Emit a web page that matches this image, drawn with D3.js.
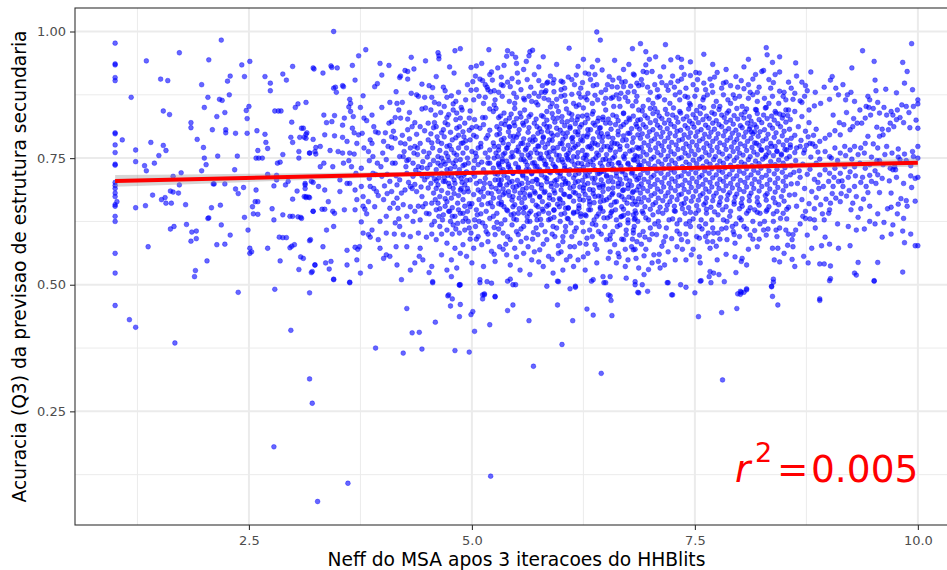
<!DOCTYPE html>
<html><head><meta charset="utf-8">
<script src="https://cdn.jsdelivr.net/npm/d3@7"></script>
<style>body{margin:0;background:#fff}svg{display:block}text{font-family:"DejaVu Sans",sans-serif}</style>
</head><body><svg id="chart" width="947" height="570"></svg>
<script>
const xTicks=[2.5,5,7.5,10], xTickLabels=["2.5","5.0","7.5","10.0"], xMinor=[1.25,3.75,6.25,8.75];
const yTicks=[.25,.5,.75,1], yTickLabels=["0.25","0.50","0.75","1.00"], yMinor=[.125,.375,.625,.875];
const xDomain=[0.55,10.45], yDomain=[0.0256,1.0464];
const xTitle="Neff do MSA apos 3 iteracoes do HHBlits";
const yTitle="Acuracia (Q3) da previsao de estrutura secundaria";
const fitX=[1,10], fitY=[.705,.741];
const bandX=[1,2.5,4,5.5,6.5,8,10];
const bandLo=[.6935,.703,.712,.7197,.724,.7285,.733];
const bandHi=[.7165,.719,.722,.7263,.730,.7375,.749];
const r2Value="0.005";

const stackAt1=[[1,.977],[1,.936],[1,.934],[1,.909],[1,.903],[1,.80],[1,.798],[1,.776],[1,.761],[1,.738],[1,.736],[1,.702],[1,.696],[1,.69],[1,.681],[1,.674],[1,.658],[1,.655],[1,.635],[1,.625],[1,.562],[1,.523],[1,.459]];

const leftSparse=[[1.08,.786],[1.18,.870],[1.02,.664],[1.23,.766],[1.23,.743],[1.23,.652],[1.33,.735],[1.35,.725],[1.35,.942],[1.40,.781],[1.34,.656],[1.37,.575],[1.42,.677],[1.44,.740],[1.49,.755],[1.51,.906],[1.54,.843],[1.54,.775],[1.57,.765],[1.52,.668],[1.56,.672],[1.57,.661],[1.59,.903],[1.61,.836],[1.63,.661],[1.62,.685],[1.65,.683],[1.62,.610],[1.66,.615],[1.65,.714],[1.72,.958],[1.71,.681],[1.72,.697],[1.74,.721],[1.79,.658],[1.80,.619],[1.85,.820],[1.85,.810],[1.86,.604],[1.85,.586],[1.91,.606],[1.91,.591],[1.90,.528],[1.89,.516],[1.92,.787],[1.97,.895],[2.00,.850],[2.04,.870],[2.05,.944],[1.97,.725],[1.99,.771],[2.00,.750],[2.02,.737],[2.09,.806],[2.14,.832],[2.10,.699],[2.11,.699],[2.08,.652],[2.05,.632],[2.04,.631],[2.03,.547],[2.14,.579],[2.19,.983],[2.15,.754],[2.19,.618],[2.18,.657],[2.17,.866],[2.20,.864],[2.23,.840],[2.24,.806],[2.24,.800],[2.23,.699],[2.23,.580],[2.26,.902],[2.29,.912],[2.28,.875],[2.29,.598],[2.35,.799],[2.34,.727],[2.37,.754],[2.35,.689],[2.38,.680],[2.42,.934],[2.45,.911],[2.51,.941],[2.47,.844],[2.50,.852],[2.48,.828],[2.48,.799],[2.44,.692],[2.45,.633],[2.49,.608],[2.51,.572],[2.51,.562],[2.53,.565],[2.54,.654],[2.55,.640],[2.57,.664],[2.60,.664],[2.58,.687],[2.58,.750],[2.60,.765],[2.61,.750],[2.59,.804],[2.65,.750],[2.60,.639],[2.68,.797],[2.68,.911],[2.74,.898],[2.74,.883],[2.69,.781],[2.71,.769],[2.71,.718],[2.76,.650],[2.79,.843],[2.83,.843],[2.86,.843],[2.78,.695],[2.81,.707],[2.81,.716],[2.82,.740],[2.85,.742],[2.71,.572],[2.78,.628],[2.84,.594],[2.88,.593],[2.92,.593],[2.85,.547],[2.88,.916],[2.92,.904],[2.88,.638],[2.91,.697],[2.94,.704],[2.88,.757],[2.98,.821],[2.97,.791],[2.99,.931],[2.99,.781],[3.02,.850],[3.05,.857],[2.99,.669],[2.96,.635],[2.99,.635],[3.05,.634],[3.08,.633],[2.98,.576],[3.01,.579],[2.96,.573],[3.04,.685],[3.06,.763],[3.06,.750],[3.09,.809],[3.12,.791],[3.14,.797],[3.15,.800],[3.08,.555],[3.06,.530],[3.13,.697],[3.13,.690],[3.14,.674],[3.17,.673],[3.12,.674],[3.22,.928],[3.18,.760],[3.19,.589],[3.21,.526],[3.24,.539],[3.22,.702],[3.22,.645],[3.25,.758],[3.25,.771]];

const lowTail=[[1.16,.431],[1.23,.416],[1.67,.385],[2.38,.485],[2.79,.491],[3.18,.484],[2.97,.410],[3.18,.314],[3.21,.266],[2.78,.180],[3.27,.072],[3.45,.510],[3.63,.504],[4.27,.453],[3.92,.375],[4.23,.365],[4.33,.405],[4.41,.406],[4.44,.373],[4.59,.426],[4.56,.504],[4.73,.478],[4.76,.458],[4.78,.472],[4.86,.500],[4.86,.499],[4.87,.461],[4.86,.437],[4.81,.370],[4.97,.367],[5.01,.447],[4.99,.441],[5.03,.408],[5.09,.504],[5.12,.472],[5.14,.480],[5.17,.506],[5.20,.421],[5.26,.476],[5.21,.122],[5.40,.507],[5.40,.449],[5.46,.460],[5.49,.500],[5.64,.429],[5.69,.339],[5.96,.507],[5.96,.460],[6.01,.382],[6.10,.492],[6.16,.495],[6.13,.429],[6.29,.452],[6.36,.440],[6.34,.507],[6.48,.504],[6.50,.504],[6.53,.480],[6.55,.478],[6.56,.469],[6.57,.439],[6.45,.325],[6.83,.500],[6.86,.485],[3.61,.108],[6.87,.484],[6.91,.500],[6.97,.487],[7.19,.504],[7.24,.480],[7.34,.500],[7.40,.495],[7.50,.484],[7.54,.437],[7.56,.507],[7.68,.504],[7.80,.445],[7.81,.312],[7.97,.453],[8.01,.481],[8.02,.485],[8.05,.485],[8.08,.492],[8.36,.496],[8.37,.477],[8.43,.460],[8.38,.505],[8.90,.469],[9.01,.508],[9.51,.507]];

const midLeft=[[3.23,.926],[3.33,.918],[3.14,.860],[3.34,.835],[3.11,.809],[3.07,.791],[3.14,.789],[3.22,.787],[3.35,.796],[3.37,.820],[3.43,.822],[3.30,.773],[3.18,.760],[3.24,.763],[3.41,.765],[3.34,.740],[3.30,.733],[3.44,.733],[3.13,.700],[3.20,.704],[3.28,.694],[3.35,.687],[3.14,.672],[3.18,.672],[3.39,.664],[3.32,.649],[3.35,.649],[3.44,.645],[3.22,.645],[3.09,.631],[3.18,.587],[3.33,.575],[3.37,.608],[3.45,.615],[3.11,.552],[3.24,.539],[3.20,.524],[3.36,.543],[3.40,.531],[3.42,.546],[3.45,.511],[3.45,1.0],[3.45,.888],[3.47,.890],
[3.81,.964],[3.73,.952],[3.42,.932],[3.43,.929],[3.49,.928],[3.66,.933],[3.55,.893],[3.56,.891],[3.48,.880],[3.63,.866],[3.64,.858],[3.62,.851],[3.64,.842],[3.78,.873],[3.69,.904],[3.46,.834],[3.57,.829],[3.67,.832],[3.79,.829],[3.82,.824],[3.46,.794],[3.55,.791],[3.60,.783],[3.66,.809],[3.73,.796],[3.77,.799],[3.71,.779],[3.50,.763],[3.55,.760],[3.63,.760],[3.68,.758],[3.79,.770],[3.56,.740],[3.65,.733],[3.76,.730],[3.52,.707],[3.63,.700],[3.69,.687],[3.76,.694],[3.52,.684],[3.78,.674],[3.71,.668],[3.57,.648],[3.69,.648],[3.80,.649],[3.46,.641],[3.76,.624],[3.78,.602],[3.84,.599],[3.86,.594],[3.60,.568],[3.69,.574],[3.72,.570],[3.74,.575],[3.71,.549],[3.60,.539],[3.75,.523],[3.63,.505],
[3.97,.937],[4.07,.933],[3.94,.897],[3.99,.914],[3.91,.891],[3.90,.812],[3.92,.802],[3.86,.786],[3.88,.779],[4.01,.783],[4.06,.773],[4.10,.792],[4.14,.789],[4.08,.860],[4.16,.858],[4.10,.822],[4.14,.830],[3.84,.763],[3.89,.753],[3.94,.740],[4.04,.747],[4.14,.740],[4.19,.753],[3.89,.720],[3.99,.714],[4.08,.704],[4.16,.697],[4.19,.707],[3.86,.694],[3.93,.684],[4.10,.684],[4.16,.671],[4.01,.668],[3.84,.664],[3.91,.654],[4.08,.651],[4.17,.651],[4.04,.635],[3.97,.625],[4.14,.622],[3.88,.608],[4.04,.602],[3.97,.572],[4.04,.559],[4.08,.556],[4.01,.552],[3.95,.589],[4.16,.539],[4.15,.575],[3.86,.536],
[4.25,.923],[4.28,.921],[4.32,.949],[4.48,.942],[4.35,.926],[4.19,.909],[4.20,.912],[4.28,.906],[4.44,.896],[4.52,.893],[4.56,.889],[4.32,.878],[4.38,.875],[4.40,.872],[4.44,.847],[4.48,.849],[4.54,.845],[4.20,.829],[4.28,.827],[4.36,.820],[4.33,.812],[4.28,.806],[4.42,.812],[4.51,.819],[4.25,.778],[4.31,.770],[4.36,.773],[4.42,.779],[4.46,.763],[4.51,.786],[4.56,.770],[4.23,.753],[4.29,.747],[4.34,.740],[4.40,.733],[4.45,.743],[4.53,.737],[4.27,.720],[4.34,.714],[4.41,.720],[4.47,.707],[4.55,.717],[4.21,.681],[4.25,.687],[4.31,.694],[4.38,.684],[4.44,.674],[4.51,.691],[4.57,.681],[4.23,.658],[4.31,.654],[4.36,.645],[4.45,.654],[4.49,.641],[4.55,.661],[4.27,.635],[4.19,.615],[4.34,.625],[4.42,.628],[4.55,.618],[4.23,.599],[4.31,.595],[4.40,.602],[4.49,.594],[4.27,.575],[4.42,.572],[4.36,.543],[4.45,.549],[4.55,.536],[4.31,.529],[4.41,.556],[4.52,.524],[4.56,.506],[4.21,.510],
[4.62,.958],[4.63,.952],[4.63,.946],[4.81,.962],[4.87,.966],[4.75,.930],[4.80,.918],[4.60,.911],[4.70,.883],[4.72,.870],[4.59,.835],[4.63,.857],[4.69,.852],[4.79,.857],[4.79,.845],[4.83,.839],[4.87,.829],[4.92,.819],[4.61,.792],[4.66,.779],[4.72,.773],[4.78,.786],[4.83,.756],[4.88,.779],[4.91,.792],[4.94,.770],[4.60,.812],[4.68,.806],[4.73,.816],[4.83,.809],[4.90,.802],[4.62,.753],[4.68,.743],[4.73,.753],[4.79,.740],[4.87,.747],[4.92,.737],[4.60,.727],[4.66,.720],[4.72,.727],[4.77,.714],[4.83,.720],[4.88,.710],[4.94,.723],[4.62,.697],[4.70,.704],[4.75,.694],[4.81,.700],[4.87,.687],[4.92,.697],[4.59,.668],[4.64,.674],[4.72,.664],[4.77,.671],[4.84,.661],[4.90,.668],[4.60,.648],[4.68,.638],[4.75,.645],[4.81,.635],[4.87,.641],[4.93,.631],[4.64,.615],[4.72,.608],[4.79,.618],[4.86,.602],[4.92,.608],[4.60,.589],[4.72,.582],[4.81,.572],[4.90,.579],[4.66,.559],[4.77,.549],[4.87,.562],[4.94,.556],[4.72,.529],[4.83,.533],[4.77,.516],[4.87,.500],[4.74,.480],
[4.22,.795],[4.30,.788],[4.38,.797],[4.47,.804],[4.54,.798],[4.24,.763],[4.39,.757],[4.50,.752],[4.57,.745],[4.26,.733],[4.37,.726],[4.44,.731],[4.50,.713],[4.58,.709],[4.29,.702],[4.36,.698],[4.43,.693],[4.54,.700],[4.62,.783],[4.69,.792],[4.76,.801],[4.85,.795],[4.93,.784],[4.64,.765],[4.71,.760],[4.77,.767],[4.85,.770],[4.90,.760],[4.65,.735],[4.70,.738],[4.76,.729],[4.81,.733],[4.86,.727],[4.91,.716],[4.63,.711],[4.68,.704],[4.73,.716],[4.80,.707],[4.89,.702],[4.94,.706],[4.66,.686],[4.73,.681],[4.79,.690],[4.85,.676],[4.91,.683],[4.62,.661],[4.70,.655],[4.78,.652],[4.85,.648],[4.92,.655],[4.67,.628],[4.76,.625],[4.84,.621],[4.90,.641],[4.65,.840],[4.74,.836],[4.82,.826],[4.89,.845],[4.77,.873],[4.85,.880],[4.93,.865],[4.58,.860],[4.12,.803],[4.05,.718],[3.98,.733],[4.11,.740],[4.02,.695],[4.12,.661],[3.95,.676],[3.92,.718],[4.07,.819],[3.99,.850],[3.88,.835],[4.18,.845],[4.15,.881],
[3.55,.815],[3.62,.745],[3.70,.720],[3.78,.655],[3.85,.745],[3.90,.690],[3.95,.800],[4.00,.760],[4.05,.680],[4.10,.770],[4.15,.715],[4.18,.630],[4.22,.860],[4.27,.745],[4.33,.690],[4.39,.770],[4.44,.715],[4.48,.660],[4.52,.760],[4.57,.810],[4.60,.690],[4.66,.750],[4.70,.820],[4.74,.700],[4.80,.760],[4.85,.715],[4.90,.780],[4.95,.690],[3.68,.800],[3.75,.850],[3.85,.710],[4.03,.800],[4.20,.780],[4.35,.760],[4.50,.730],[4.63,.635],[4.78,.600],[4.88,.850],[4.97,.660],[4.30,.840],[4.47,.870],[4.13,.600],[3.60,.700],[3.82,.640],[4.40,.655],[4.55,.600]];

const midCenter=[[4.99,.929],[5.05,.932],[5.11,.937],[5.19,.964],[4.99,.884],[5.01,.901],[5.04,.912],[5.09,.906],[5.12,.903],[5.15,.895],[5.18,.885],[5.21,.881],[5.23,.904],[5.25,.883],[5.29,.928],[5.22,.920],[4.98,.843],[4.97,.829],[5.03,.826],[5.05,.812],[5.09,.809],[5.13,.816],[5.20,.847],[5.24,.842],[5.27,.848],[5.30,.830],[5.02,.865],[5.13,.858],[5.26,.865],[5.00,.763],[5.05,.753],[5.10,.779],[5.15,.760],[5.20,.766],[5.25,.773],[5.29,.753],[4.98,.786],[5.05,.792],[5.16,.789],[5.28,.796],[4.96,.740],[5.02,.730],[5.07,.737],[5.13,.727],[5.18,.740],[5.24,.730],[5.30,.737],[4.98,.707],[5.03,.714],[5.09,.704],[5.15,.710],[5.20,.700],[5.26,.707],[5.31,.697],[4.96,.684],[5.02,.678],[5.07,.687],[5.13,.674],[5.18,.681],[5.24,.671],[5.30,.684],[4.98,.654],[5.05,.648],[5.11,.658],[5.16,.645],[5.23,.654],[5.28,.641],[4.96,.625],[5.03,.628],[5.12,.622],[5.20,.631],[5.28,.623],[4.99,.602],[5.07,.595],[5.16,.605],[5.26,.599],[5.02,.572],[5.11,.579],[5.22,.566],[5.31,.575],[5.00,.543],[5.13,.536],[5.26,.546],[5.09,.510],[5.22,.503],[5.12,.480],[5.14,.482],[5.26,.477],
[5.02,.795],[5.10,.772],[5.18,.751],[5.26,.719],[5.05,.700],[5.13,.690],[5.21,.662],[5.08,.668],[5.16,.720],[5.24,.780],[5.12,.830],[5.20,.805],[5.03,.745],[5.27,.760],[5.22,.693],[5.06,.638],[5.15,.615],[5.25,.613],[4.97,.612],[5.28,.812],
[5.40,.962],[5.45,.956],[5.49,.949],[5.50,.937],[5.36,.933],[5.39,.951],[5.68,.963],[5.65,.960],[5.64,.952],[5.61,.941],[5.33,.910],[5.35,.893],[5.40,.900],[5.45,.907],[5.51,.918],[5.52,.900],[5.43,.891],[5.50,.870],[5.34,.872],[5.64,.872],[5.59,.865],[5.67,.862],[5.36,.839],[5.42,.829],[5.48,.848],[5.42,.812],[5.33,.818],[5.48,.814],[5.57,.819],[5.64,.832],[5.59,.845],[5.54,.839],[5.34,.743],[5.39,.770],[5.43,.793],[5.50,.791],[5.55,.779],[5.60,.766],[5.65,.786],[5.33,.786],[5.37,.760],[5.46,.753],[5.52,.763],[5.58,.747],[5.63,.756],[5.68,.740],[5.35,.727],[5.41,.733],[5.46,.720],[5.52,.730],[5.57,.717],[5.61,.727],[5.67,.720],[5.33,.707],[5.39,.697],[5.45,.704],[5.50,.694],[5.56,.700],[5.61,.691],[5.68,.704],[5.35,.678],[5.41,.684],[5.46,.674],[5.54,.681],[5.59,.671],[5.65,.678],[5.33,.658],[5.39,.648],[5.46,.654],[5.52,.641],[5.58,.651],[5.64,.641],[5.37,.628],[5.45,.618],[5.50,.628],[5.58,.615],[5.65,.625],[5.35,.602],[5.43,.589],[5.52,.599],[5.61,.592],[5.69,.603],[5.39,.559],[5.48,.572],[5.58,.562],[5.67,.549],[5.43,.539],[5.54,.529],[5.65,.520],[5.46,.500],[5.43,.511],
[5.75,.903],[5.84,.898],[5.85,.900],[5.91,.898],[6.00,.902],[6.02,.900],[6.04,.888],[5.92,.881],[5.83,.883],[5.79,.893],[5.70,.878],[5.75,.872],[5.81,.868],[5.86,.865],[5.95,.866],[6.04,.874],[6.09,.967],[5.84,.842],[5.88,.851],[5.95,.852],[5.97,.842],[6.06,.847],[5.74,.855],[5.80,.832],[5.91,.829],[6.01,.822],[5.73,.812],[5.78,.802],[5.84,.812],[5.89,.799],[5.95,.809],[6.02,.799],[5.71,.786],[5.75,.773],[5.80,.792],[5.87,.786],[5.91,.770],[5.99,.779],[6.05,.792],[5.73,.760],[5.78,.750],[5.84,.760],[5.89,.747],[5.95,.756],[6.01,.747],[6.06,.756],[5.71,.733],[5.76,.727],[5.82,.737],[5.87,.723],[5.93,.733],[5.99,.720],[6.04,.730],[5.73,.707],[5.78,.697],[5.84,.710],[5.89,.700],[5.95,.707],[6.01,.697],[6.05,.704],[5.71,.681],[5.76,.674],[5.82,.684],[5.87,.671],[5.93,.681],[5.99,.668],[6.04,.678],[5.74,.654],[5.80,.645],[5.86,.658],[5.92,.648],[5.98,.654],[6.04,.641],[5.73,.628],[5.78,.618],[5.86,.628],[5.91,.615],[5.99,.625],[6.05,.615],[5.74,.599],[5.84,.589],[5.93,.595],[6.02,.585],[5.76,.569],[5.86,.556],[5.97,.562],[6.06,.549],[5.80,.536],[5.91,.523],[6.02,.529],[5.97,.506],[5.84,.497],
[6.19,.931],[6.27,.918],[6.31,.916],[6.17,.914],[6.24,.899],[6.36,.893],[6.40,.895],[6.40,.999],[6.44,.983],[6.41,.943],[6.46,.924],[6.12,.876],[6.20,.878],[6.27,.870],[6.14,.858],[6.29,.865],[6.35,.858],[6.38,.874],[6.41,.865],[6.09,.839],[6.17,.852],[6.25,.849],[6.12,.826],[6.19,.832],[6.29,.835],[6.36,.842],[6.42,.829],[6.10,.812],[6.16,.802],[6.23,.816],[6.30,.806],[6.36,.819],[6.43,.809],[6.10,.766],[6.16,.773],[6.22,.786],[6.27,.756],[6.32,.773],[6.38,.779],[6.43,.792],[6.12,.789],[6.19,.796],[6.29,.792],[6.08,.747],[6.14,.753],[6.19,.740],[6.25,.750],[6.30,.737],[6.36,.747],[6.42,.756],[6.10,.727],[6.16,.717],[6.21,.727],[6.27,.714],[6.32,.723],[6.38,.710],[6.43,.720],[6.08,.700],[6.14,.694],[6.19,.704],[6.25,.691],[6.30,.700],[6.36,.687],[6.42,.697],[6.10,.674],[6.16,.681],[6.21,.668],[6.27,.678],[6.32,.664],[6.38,.674],[6.44,.664],[6.08,.651],[6.14,.641],[6.20,.651],[6.27,.638],[6.33,.648],[6.40,.635],[6.11,.622],[6.17,.612],[6.24,.623],[6.32,.608],[6.39,.618],[6.12,.595],[6.21,.582],[6.29,.592],[6.38,.579],[6.10,.556],[6.19,.549],[6.30,.562],[6.40,.543],[6.14,.536],[6.27,.529],[6.36,.510],[6.16,.497],
[6.60,.943],[6.80,.966],[6.81,.916],[6.76,.935],[6.54,.911],[6.58,.904],[6.57,.891],[6.65,.908],[6.72,.901],[6.63,.890],[6.67,.878],[6.65,.867],[6.70,.891],[6.82,.881],[6.87,.893],[6.50,.868],[6.56,.868],[6.50,.845],[6.59,.852],[6.66,.852],[6.70,.839],[6.80,.853],[6.84,.862],[6.87,.845],[6.47,.826],[6.55,.819],[6.62,.832],[6.70,.816],[6.77,.826],[6.85,.812],[6.45,.799],[6.48,.773],[6.55,.766],[6.60,.779],[6.66,.773],[6.73,.786],[6.80,.766],[6.85,.753],[6.53,.792],[6.64,.796],[6.77,.799],[6.47,.747],[6.53,.737],[6.58,.750],[6.64,.740],[6.70,.753],[6.75,.740],[6.81,.747],[6.87,.733],[6.45,.723],[6.51,.714],[6.57,.727],[6.62,.714],[6.68,.723],[6.73,.710],[6.79,.720],[6.85,.707],[6.47,.694],[6.53,.704],[6.58,.691],[6.64,.700],[6.70,.687],[6.75,.697],[6.81,.684],[6.87,.694],[6.45,.674],[6.51,.668],[6.57,.678],[6.62,.664],[6.68,.674],[6.74,.661],[6.80,.671],[6.85,.658],[6.47,.645],[6.55,.635],[6.61,.648],[6.68,.635],[6.75,.641],[6.83,.631],[6.49,.615],[6.58,.605],[6.66,.618],[6.73,.608],[6.81,.602],[6.51,.589],[6.60,.579],[6.70,.589],[6.79,.575],[6.85,.585],[6.53,.552],[6.64,.562],[6.75,.549],[6.81,.569],[6.47,.516],[6.55,.516],[6.62,.543],[6.72,.536],[6.83,.506],[6.87,.533]];

const coreFillA=[[5.32,.833],[5.44,.837],[5.55,.831],[5.66,.836],[5.78,.834],[5.90,.838],[6.01,.832],[6.12,.836],[6.24,.833],[6.35,.837],[6.47,.831],[6.58,.835],[6.70,.838],[6.81,.833],
[5.37,.816],[5.47,.820],[5.58,.815],[5.70,.819],[5.81,.817],[5.93,.821],[6.04,.814],[6.16,.818],[6.27,.820],[6.38,.815],[6.50,.819],[6.61,.816],[6.73,.821],[6.84,.817],
[5.31,.798],[5.41,.802],[5.52,.797],[5.63,.801],[5.74,.799],[5.85,.803],[5.96,.796],[6.07,.800],[6.19,.802],[6.30,.797],[6.41,.801],[6.52,.798],[6.64,.803],[6.75,.799],[6.86,.796],
[5.35,.780],[5.46,.784],[5.57,.779],[5.68,.783],[5.79,.781],[5.90,.785],[6.01,.778],[6.13,.782],[6.24,.784],[6.35,.779],[6.46,.783],[6.57,.780],[6.69,.785],[6.80,.781],
[5.30,.766],[5.40,.770],[5.50,.765],[5.61,.769],[5.71,.767],[5.82,.771],[5.92,.764],[6.03,.768],[6.14,.770],[6.24,.765],[6.34,.769],[6.45,.766],[6.56,.771],[6.66,.767],[6.77,.764],[6.87,.769],
[5.34,.748],[5.44,.752],[5.55,.747],[5.65,.751],[5.76,.749],[5.86,.753],[5.97,.746],[6.07,.750],[6.18,.752],[6.28,.747],[6.39,.751],[6.50,.748],[6.60,.753],[6.71,.749],[6.82,.746],
[5.31,.733],[5.41,.737],[5.52,.732],[5.62,.736],[5.73,.734],[5.83,.738],[5.94,.731],[6.04,.735],[6.15,.737],[6.25,.732],[6.36,.736],[6.46,.733],[6.57,.738],[6.67,.734],[6.78,.731],[6.88,.736],
[5.36,.716],[5.46,.720],[5.57,.715],[5.67,.719],[5.78,.717],[5.88,.721],[5.99,.714],[6.09,.718],[6.20,.720],[6.30,.715],[6.41,.719],[6.51,.716],[6.62,.721],[6.72,.717],[6.83,.714],
[5.32,.698],[5.42,.702],[5.53,.697],[5.63,.701],[5.74,.699],[5.84,.703],[5.95,.696],[6.05,.700],[6.16,.702],[6.26,.697],[6.37,.701],[6.47,.698],[6.58,.703],[6.68,.699],[6.79,.696],
[5.37,.681],[5.48,.685],[5.59,.680],[5.70,.684],[5.81,.682],[5.92,.686],[6.03,.679],[6.14,.683],[6.25,.685],[6.36,.680],[6.47,.684],[6.58,.681],[6.69,.686],[6.80,.682],
[5.33,.663],[5.45,.667],[5.56,.662],[5.68,.666],[5.79,.664],[5.91,.668],[6.02,.661],[6.14,.665],[6.25,.667],[6.37,.662],[6.48,.666],[6.60,.663],[6.71,.668],[6.83,.664],
[5.40,.646],[5.53,.650],[5.66,.645],[5.79,.649],[5.92,.647],[6.05,.651],[6.18,.644],[6.31,.648],[6.44,.650],[6.57,.645],[6.70,.649],[6.83,.646],
[5.47,.630],[5.62,.634],[5.77,.629],[5.92,.633],[6.07,.631],[6.22,.635],[6.37,.628],[6.52,.632],[6.67,.634],[6.82,.629]];

const coreFillC=[[5.38,.824],[5.50,.828],[5.61,.823],[5.72,.827],[5.84,.825],[5.96,.829],[6.07,.822],[6.18,.826],[6.30,.828],[6.41,.823],[6.53,.827],[6.64,.824],[6.76,.829],[6.86,.825],
[5.31,.807],[5.42,.811],[5.53,.806],[5.64,.810],[5.76,.808],[5.87,.812],[5.99,.805],[6.10,.809],[6.21,.811],[6.33,.806],[6.44,.810],[6.56,.807],[6.67,.812],[6.79,.808],
[5.36,.789],[5.47,.793],[5.58,.788],[5.69,.792],[5.80,.790],[5.91,.794],[6.02,.787],[6.13,.791],[6.25,.793],[6.36,.788],[6.47,.792],[6.58,.789],[6.70,.794],[6.81,.790],
[5.30,.773],[5.41,.777],[5.52,.772],[5.63,.776],[5.74,.774],[5.85,.778],[5.96,.771],[6.08,.775],[6.19,.777],[6.30,.772],[6.41,.776],[6.52,.773],[6.63,.778],[6.74,.774],[6.85,.771],
[5.35,.757],[5.45,.761],[5.56,.756],[5.66,.760],[5.77,.758],[5.87,.762],[5.98,.755],[6.08,.759],[6.19,.761],[6.29,.756],[6.40,.760],[6.51,.757],[6.61,.762],[6.72,.758],[6.83,.755],
[5.30,.740],[5.39,.744],[5.49,.739],[5.60,.743],[5.70,.741],[5.81,.745],[5.91,.738],[6.02,.742],[6.12,.744],[6.23,.739],[6.33,.743],[6.44,.740],[6.54,.745],[6.65,.741],[6.75,.738],[6.86,.743],
[5.33,.724],[5.43,.728],[5.54,.723],[5.64,.727],[5.75,.725],[5.85,.729],[5.96,.722],[6.06,.726],[6.17,.728],[6.27,.723],[6.38,.727],[6.48,.724],[6.59,.729],[6.69,.725],[6.80,.722],
[5.30,.707],[5.40,.711],[5.51,.706],[5.61,.710],[5.72,.708],[5.82,.712],[5.93,.705],[6.03,.709],[6.14,.711],[6.24,.706],[6.35,.710],[6.45,.707],[6.56,.712],[6.66,.708],[6.77,.705],[6.87,.710],
[5.35,.689],[5.46,.693],[5.57,.688],[5.67,.692],[5.78,.690],[5.89,.694],[6.00,.687],[6.10,.691],[6.21,.693],[6.32,.688],[6.43,.692],[6.53,.689],[6.64,.694],[6.75,.690],[6.85,.687],
[5.31,.672],[5.42,.676],[5.53,.671],[5.65,.675],[5.76,.673],[5.87,.677],[5.98,.670],[6.09,.674],[6.20,.676],[6.31,.671],[6.42,.675],[6.54,.672],[6.65,.677],[6.76,.673],[6.87,.670],
[5.36,.654],[5.48,.658],[5.60,.653],[5.72,.657],[5.84,.655],[5.96,.659],[6.08,.652],[6.20,.656],[6.32,.658],[6.44,.653],[6.56,.657],[6.68,.654],[6.80,.659],
[5.44,.638],[5.58,.642],[5.72,.637],[5.86,.641],[6.00,.639],[6.14,.643],[6.28,.636],[6.42,.640],[6.56,.642],[6.70,.637],[6.84,.641]];

const coreFillB=[[6.91,.843],[7.00,.848],[7.08,.841],[7.17,.846],[7.26,.849],[7.33,.842],[7.43,.847],[7.52,.844],[7.60,.849],[7.69,.840],[7.77,.846],[7.88,.843],[7.97,.848],[8.06,.841],[8.18,.846],[8.29,.849],[8.40,.842],[8.52,.845],
[6.94,.834],[7.03,.838],[7.10,.833],[7.19,.837],[7.25,.835],[7.34,.839],[7.41,.832],[7.48,.836],[7.56,.838],[7.63,.833],[7.72,.837],[7.80,.835],[7.86,.839],[7.94,.834],[8.02,.836],[8.11,.832],[8.20,.838],[8.27,.835],[8.36,.833],[8.45,.837],[8.54,.834],
[6.89,.826],[6.97,.829],[7.06,.824],[7.13,.828],[7.21,.825],[7.29,.830],[7.37,.827],[7.44,.823],[7.51,.829],[7.59,.826],[7.66,.828],[7.74,.824],[7.83,.830],[7.90,.825],[7.98,.827],[8.05,.829],[8.13,.823],[8.22,.826],[8.31,.828],[8.39,.825],[8.48,.829],[8.57,.826],
[6.92,.816],[7.00,.820],[7.08,.815],[7.16,.819],[7.23,.817],[7.31,.821],[7.39,.814],[7.47,.818],[7.54,.820],[7.62,.815],[7.70,.819],[7.77,.816],[7.85,.821],[7.93,.817],[8.01,.814],[8.09,.819],[8.17,.816],[8.25,.820],[8.34,.815],[8.43,.818],[8.52,.821],
[6.88,.807],[6.95,.811],[7.03,.806],[7.11,.810],[7.19,.808],[7.27,.812],[7.34,.805],[7.42,.809],[7.49,.811],[7.57,.806],[7.65,.810],[7.72,.807],[7.80,.812],[7.88,.808],[7.96,.805],[8.03,.810],[8.11,.807],[8.19,.811],[8.28,.806],[8.37,.809],[8.46,.812],[8.56,.807],
[6.91,.798],[6.99,.802],[7.07,.797],[7.14,.801],[7.22,.799],[7.30,.803],[7.38,.796],[7.45,.800],[7.53,.802],[7.61,.797],[7.68,.801],[7.76,.798],[7.84,.803],[7.92,.799],[7.99,.796],[8.07,.801],[8.15,.798],[8.23,.802],[8.32,.797],[8.41,.800],[8.50,.803],
[6.89,.789],[6.97,.793],[7.05,.788],[7.12,.792],[7.20,.790],[7.28,.794],[7.36,.787],[7.43,.791],[7.51,.793],[7.59,.788],[7.66,.792],[7.74,.789],[7.82,.794],[7.90,.790],[7.97,.787],[8.05,.792],[8.13,.789],[8.21,.793],[8.30,.788],[8.39,.791],[8.48,.794],[8.58,.789],
[6.93,.780],[7.01,.784],[7.09,.779],[7.16,.783],[7.24,.781],[7.32,.785],[7.40,.778],[7.47,.782],[7.55,.784],[7.63,.779],[7.70,.783],[7.78,.780],[7.86,.785],[7.94,.781],[8.01,.778],[8.09,.783],[8.17,.780],[8.26,.784],[8.35,.779],[8.44,.782],[8.53,.785],
[6.90,.771],[6.98,.775],[7.06,.770],[7.13,.774],[7.21,.772],[7.29,.776],[7.37,.769],[7.44,.773],[7.52,.775],[7.60,.770],[7.67,.774],[7.75,.771],[7.83,.776],[7.91,.772],[7.98,.769],[8.06,.774],[8.14,.771],[8.22,.775],[8.31,.770],[8.40,.773],[8.49,.776],[8.57,.771],
[6.92,.762],[7.00,.766],[7.08,.761],[7.15,.765],[7.23,.763],[7.31,.767],[7.39,.760],[7.46,.764],[7.54,.766],[7.62,.761],[7.69,.765],[7.77,.762],[7.85,.767],[7.93,.763],[8.00,.760],[8.08,.765],[8.16,.762],[8.24,.766],[8.33,.761],[8.42,.764],[8.51,.767],
[6.89,.753],[6.96,.757],[7.04,.752],[7.12,.756],[7.20,.754],[7.27,.758],[7.35,.751],[7.43,.755],[7.50,.757],[7.58,.752],[7.66,.756],[7.73,.753],[7.81,.758],[7.89,.754],[7.97,.751],[8.04,.756],[8.12,.753],[8.20,.757],[8.29,.752],[8.38,.755],[8.47,.758],[8.56,.753],
[6.93,.744],[7.01,.748],[7.09,.743],[7.17,.747],[7.24,.745],[7.32,.749],[7.40,.742],[7.48,.746],[7.55,.748],[7.63,.743],[7.71,.747],[7.78,.744],[7.86,.749],[7.94,.745],[8.02,.742],[8.10,.747],[8.18,.744],[8.26,.748],[8.35,.743],[8.44,.746],[8.53,.749],
[6.90,.735],[6.98,.739],[7.05,.734],[7.13,.738],[7.21,.736],[7.28,.740],[7.36,.733],[7.44,.737],[7.52,.739],[7.59,.734],[7.67,.738],[7.75,.735],[7.82,.740],[7.90,.736],[7.98,.733],[8.06,.738],[8.14,.735],[8.22,.739],[8.31,.734],[8.40,.737],[8.49,.740],[8.58,.735],
[6.92,.726],[7.00,.730],[7.07,.725],[7.15,.729],[7.23,.727],[7.30,.731],[7.38,.724],[7.46,.728],[7.54,.730],[7.61,.725],[7.69,.729],[7.77,.726],[7.84,.731],[7.92,.727],[8.00,.724],[8.08,.729],[8.16,.726],[8.24,.730],[8.33,.725],[8.42,.728],[8.51,.731],
[6.89,.717],[6.97,.721],[7.04,.716],[7.12,.720],[7.20,.718],[7.27,.722],[7.35,.715],[7.43,.719],[7.51,.721],[7.58,.716],[7.66,.720],[7.74,.717],[7.81,.722],[7.89,.718],[7.97,.715],[8.05,.720],[8.13,.717],[8.21,.721],[8.30,.716],[8.39,.719],[8.48,.722],[8.57,.717],
[6.93,.708],[7.01,.712],[7.08,.707],[7.16,.711],[7.24,.709],[7.31,.713],[7.39,.706],[7.47,.710],[7.55,.712],[7.62,.707],[7.70,.711],[7.78,.708],[7.85,.713],[7.93,.709],[8.01,.706],[8.09,.711],[8.17,.708],[8.25,.712],[8.34,.707],[8.43,.710],[8.52,.713],
[6.90,.699],[6.98,.703],[7.05,.698],[7.13,.702],[7.21,.700],[7.28,.704],[7.36,.697],[7.44,.701],[7.52,.703],[7.59,.698],[7.67,.702],[7.75,.699],[7.82,.704],[7.90,.700],[7.98,.697],[8.06,.702],[8.14,.699],[8.22,.703],[8.31,.698],[8.40,.701],[8.49,.704],[8.58,.699],
[6.92,.690],[7.00,.694],[7.08,.689],[7.15,.693],[7.23,.691],[7.31,.695],[7.38,.688],[7.46,.692],[7.54,.694],[7.62,.689],[7.69,.693],[7.77,.690],[7.85,.695],[7.92,.691],[8.00,.688],[8.08,.693],[8.16,.690],[8.25,.694],[8.34,.689],[8.43,.692],[8.52,.695],
[6.89,.681],[6.97,.685],[7.05,.680],[7.12,.684],[7.20,.682],[7.28,.686],[7.35,.679],[7.43,.683],[7.51,.685],[7.59,.680],[7.66,.684],[7.74,.681],[7.82,.686],[7.89,.682],[7.97,.679],[8.05,.684],[8.13,.681],[8.22,.685],[8.31,.680],[8.40,.683],[8.49,.686],
[6.93,.672],[7.01,.676],[7.09,.671],[7.17,.675],[7.24,.673],[7.32,.677],[7.40,.670],[7.48,.674],[7.56,.676],[7.63,.671],[7.71,.675],[7.79,.672],[7.87,.677],[7.95,.673],[8.03,.670],[8.11,.675],[8.20,.672],[8.29,.676],[8.38,.671],[8.47,.674],[8.56,.677],
[6.90,.663],[6.98,.667],[7.06,.662],[7.14,.666],[7.22,.664],[7.30,.668],[7.38,.661],[7.46,.665],[7.54,.667],[7.62,.662],[7.70,.666],[7.78,.663],[7.86,.668],[7.94,.664],[8.02,.661],[8.11,.666],[8.20,.663],[8.30,.667],[8.40,.662],[8.50,.665],
[6.94,.654],[7.03,.658],[7.11,.653],[7.19,.657],[7.27,.655],[7.35,.659],[7.43,.652],[7.52,.656],[7.60,.658],[7.68,.653],[7.77,.657],[7.85,.654],[7.94,.659],[8.03,.655],[8.12,.652],[8.22,.657],[8.33,.654],[8.44,.658],[8.55,.653],
[6.91,.645],[7.00,.649],[7.09,.644],[7.18,.648],[7.27,.646],[7.36,.650],[7.45,.643],[7.54,.647],[7.63,.649],[7.72,.644],[7.81,.648],[7.90,.645],[8.00,.650],[8.10,.646],[8.20,.643],[8.31,.648],[8.42,.645],[8.53,.649]];

const upperBand=[[5.08,.872],[5.17,.890],[5.30,.880],[5.42,.862],[5.55,.885],[5.62,.905],[5.70,.915],[5.78,.880],[5.92,.905],[6.00,.885],[6.08,.910],[6.15,.895],[6.22,.870],[6.33,.905],[6.45,.880],[6.52,.895],[6.62,.875],[6.72,.870],[6.78,.892],[7.08,.885],[7.27,.890],[7.38,.915],[7.48,.895],[7.60,.898],[7.72,.910],[7.85,.900],[7.98,.890],[8.10,.895],[8.18,.915],[8.33,.905],[8.45,.920],[8.55,.900],[5.25,.855],[5.48,.858],[5.72,.860],[5.90,.858],[6.05,.862],[6.20,.855],[6.48,.858],[6.75,.862],[7.05,.848],[7.45,.855],[7.90,.858],[8.30,.850],[5.58,.925],[5.95,.935],[6.25,.945],[6.70,.925],[7.15,.930],[7.70,.935],[8.10,.945],[5.80,.950],[6.95,.960],[7.60,.955],[8.45,.950],
[4.55,.870],[4.68,.890],[4.82,.862],[4.95,.895],[5.05,.885],[5.15,.870],[5.33,.895],[5.47,.878],[5.58,.868],[5.66,.890],[5.82,.880],[5.88,.912],[6.00,.872],[6.12,.905],[6.22,.888],[6.30,.878],[6.38,.915],[6.50,.885],[6.58,.870],[6.68,.900],[6.75,.880],[6.85,.872],[6.97,.890],[7.08,.870],[7.18,.893],[7.25,.912],[7.33,.880],[7.42,.870],[7.52,.885],[7.60,.870],[7.70,.880],[7.82,.898],[7.95,.868],[8.02,.903],[8.10,.868],[8.20,.880],[8.35,.888],[8.50,.880],[8.62,.878],[8.70,.860],[8.85,.880],[8.95,.890],[9.08,.888],[9.25,.880],[5.20,.915],[5.75,.930],[6.35,.930],[6.90,.905],[7.35,.945],[7.85,.925],[8.40,.915],[8.80,.920]];

const lowerBand=[[5.05,.590],[5.18,.585],[5.30,.610],[5.38,.580],[5.50,.605],[5.55,.585],[5.63,.575],[5.72,.612],[5.80,.580],[5.90,.600],[5.97,.577],[6.05,.605],[6.15,.575],[6.25,.605],[6.35,.595],[6.45,.600],[6.55,.590],[6.63,.615],[6.72,.570],[6.80,.590],[6.92,.605],[7.05,.620],[7.15,.585],[7.30,.620],[7.42,.585],[7.55,.615],[7.62,.595],[7.80,.610],[7.92,.615],[8.00,.595],[8.15,.625],[8.28,.625],[8.42,.595],[5.25,.560],[5.50,.555],[5.75,.545],[6.00,.565],[6.25,.555],[6.55,.565],[6.95,.570],[7.20,.565],[7.48,.570],[7.85,.560],[8.20,.575],[8.45,.545],
[4.52,.640],[4.58,.625],[4.66,.600],[4.74,.645],[4.82,.610],[4.90,.625],[4.98,.590],[5.04,.615],[5.10,.640],[5.18,.600],[5.24,.635],[5.33,.620],[5.40,.595],[5.47,.640],[5.55,.610],[5.62,.625],[5.68,.590],[5.75,.640],[5.82,.605],[5.88,.630],[5.95,.612],[6.02,.595],[6.08,.630],[6.15,.605],[6.22,.640],[6.28,.580],[6.35,.620],[6.42,.605],[6.48,.632],[6.55,.598],[6.62,.628],[6.68,.590],[6.75,.622],[6.82,.615],[6.88,.598],[6.95,.632],[7.02,.600],[7.10,.615],[7.17,.595],[7.25,.630],[7.33,.600],[7.40,.620],[7.48,.630],[7.55,.592],[7.62,.620],[7.70,.612],[7.78,.590],[7.86,.625],[7.93,.605],[8.00,.632],[8.08,.610],[8.15,.590],[8.23,.620],[8.30,.598],[8.38,.640],[8.45,.612],[8.53,.630],[8.60,.575],[8.68,.620],[8.76,.598],[8.85,.612],[8.93,.640],[5.35,.570],[5.70,.565],[6.10,.575],[6.40,.570],[6.90,.580],[7.30,.575],[7.70,.585],[8.10,.570],[8.55,.600],[5.90,.550],[6.65,.555],[7.10,.560],[7.95,.555]];

const coreLeft=[[4.55,.780],[4.62,.740],[4.69,.712],[4.75,.775],[4.82,.745],[4.88,.690],[4.95,.750],[5.01,.720],[5.07,.770],[5.14,.700],[5.20,.740],[5.27,.690],[4.58,.820],[4.66,.800],[4.74,.745],[4.82,.790],[4.90,.735],[4.97,.805],[5.04,.760],[5.11,.742],[5.18,.795],[5.25,.750],[4.60,.705],[4.70,.670],[4.80,.680],[4.92,.720],[5.00,.660],[5.10,.683],[5.22,.680],[5.30,.660],[4.64,.650],[4.78,.635],[4.95,.645],[5.08,.625],[5.18,.660],[5.29,.718],[5.00,.810],[5.15,.830],[4.86,.812],[4.72,.830]];

const upperRight=[[6.89,.976],[7.17,.974],[6.99,.945],[7.23,.944],[7.31,.949],[7.35,.929],[6.82,.914],[6.92,.921],[6.96,.919],[7.02,.921],[7.11,.911],[6.85,.898],[6.91,.895],[7.05,.895],[7.13,.899],[7.23,.899],[7.31,.902],[7.35,.906],[7.45,.913],[7.51,.919],[7.55,.918],[7.53,.905],[7.67,.906],[7.75,.919],[7.96,.911],[8.15,.906],[8.25,.921],[8.27,.923],[8.30,.968],[8.31,.954],[8.37,.939],[8.38,.899],[8.63,.938],[8.64,.912],[8.74,.893],[8.76,.883],[8.73,.872],[9.02,.904],[9.04,.911],[9.16,.895],[9.26,.928],[9.38,.962],[9.51,.941],[9.83,.939],[9.93,.976],[9.88,.921],[9.85,.898],[9.94,.885],[9.52,.904],[9.53,.883],[9.64,.886],[9.76,.879],[9.44,.872],[9.46,.865],[9.42,.852],[9.50,.848],[9.57,.839],[9.29,.862],[9.21,.875],[9.19,.865],[9.11,.875],[9.01,.866],[8.91,.858],[8.84,.853],[8.78,.845],[8.68,.863],[8.60,.866],[8.52,.865],[8.49,.872],[8.55,.845],[8.49,.835],[8.41,.839],[8.37,.872],[8.33,.858],[8.19,.845],[8.15,.875],[8.08,.847],[8.03,.852],[8.00,.872],[7.93,.875],[7.87,.865],[7.82,.875],[7.78,.852],[7.74,.862],[7.71,.852],[7.64,.875],[7.59,.865],[7.56,.852],[7.50,.872],[7.44,.858],[7.39,.872],[7.33,.865],[7.28,.875],[7.22,.858],[7.16,.865],[7.10,.872],[7.03,.858],[6.98,.865],[6.92,.852],
[7.62,.885],[7.80,.888],[7.90,.893],[8.05,.887],[8.12,.880],[8.22,.890],[8.45,.882],[8.58,.888],[8.70,.900],[8.20,.862],[8.28,.868],[8.44,.858],[7.69,.893],[7.40,.888],[7.20,.884],[7.00,.880],[6.95,.934],[7.06,.950],[7.45,.940],[8.05,.930]];

const lowerRight=[[6.84,.552],[6.73,.513],[6.93,.520],[6.98,.530],[7.02,.543],[7.09,.546],[7.11,.533],[7.16,.539],[7.20,.504],[7.25,.480],[7.57,.508],[7.56,.543],[7.55,.555],[7.67,.526],[7.66,.516],[7.71,.523],[7.77,.520],[7.75,.549],[7.83,.506],[7.96,.524],[8.02,.546],[8.03,.552],[8.08,.539],[7.28,.549],[7.36,.570],[7.40,.549],[7.46,.559],[6.83,.570],[6.93,.557],[7.04,.559],[6.73,.599],[6.81,.608],[6.94,.594],[6.99,.589],[7.07,.599],[7.13,.576],[7.24,.591],[7.35,.589],[7.52,.595],[7.65,.602],[7.71,.602],[7.76,.602],[7.64,.585],[7.67,.572],[7.74,.576],[7.86,.589],[7.94,.599],[7.95,.582],[8.17,.607],[8.27,.608],[8.32,.610],[8.38,.625],[8.41,.608],[8.52,.608],[8.46,.631],[8.49,.641],[8.30,.645],[8.23,.641],[8.17,.648],[8.08,.641],[8.02,.628],[7.96,.620],[7.89,.635],[7.82,.628],[7.76,.638],[7.69,.628],[7.63,.641],[7.57,.628],[7.51,.641],[7.44,.625],[7.39,.641],[7.33,.628],[7.28,.645],[7.21,.628],[7.14,.641],[7.09,.625],[7.03,.638],[6.98,.628],[6.92,.641],[6.86,.625],[6.81,.638],[6.75,.628],
[8.50,.562],[8.43,.572],[8.37,.572],[8.39,.549],[8.54,.578],[8.59,.589],[8.60,.599],[8.63,.608],[8.71,.635],[8.74,.631],[8.79,.630],[8.84,.628],[8.95,.628],[9.00,.641],[9.01,.648],[8.96,.594],[8.90,.541],[8.95,.541],[9.02,.537],[9.02,.512],[8.90,.472],[8.38,.511],[8.36,.497],[8.08,.490],[7.98,.482],[8.01,.487],[8.62,.536],[8.59,.550],[8.72,.556],[8.77,.543],[8.81,.572],[8.92,.577],[9.01,.580],[9.11,.572],[9.24,.577],
[7.18,.612],[7.30,.606],[7.45,.615],[7.58,.610],[7.85,.612],[8.05,.615],[8.12,.598],[7.00,.612],[7.40,.600],[8.22,.590]];

const farRight=[[10.0,.857],[10.0,.865],[9.95,.852],[9.87,.852],[9.82,.855],[9.77,.845],[9.72,.835],[9.65,.835],[9.69,.819],[9.76,.826],[9.73,.812],[9.84,.820],[9.91,.810],[10.0,.809],[9.60,.807],[9.67,.806],[9.61,.796],[9.54,.811],[9.47,.835],[9.41,.829],[9.37,.819],[9.32,.819],[9.27,.812],[9.24,.806],[9.17,.816],[9.13,.796],[9.07,.804],[9.01,.796],[8.96,.789],[8.90,.783],[8.85,.773],[8.79,.779],[8.73,.766],[8.68,.773],[8.62,.761],[8.57,.776],[8.53,.766],[8.47,.756],[8.42,.763],[8.36,.773],[8.30,.756],[8.25,.766],[8.19,.779],[8.13,.802],[8.17,.802],[8.12,.812],[9.44,.793],[9.41,.779],[9.36,.770],[9.29,.773],[9.24,.766],[9.18,.773],[9.13,.760],[9.07,.770],[9.01,.753],[8.96,.763],[8.90,.748],[9.50,.778],[9.55,.770],[9.57,.793],[9.65,.773],[9.78,.768],[9.94,.763],[10.0,.773],[9.95,.753],[10.0,.750],[9.87,.745],[9.80,.747],[9.74,.733],[9.69,.730],[9.72,.727],[9.61,.737],[9.54,.745],[9.46,.737],[9.41,.730],[9.35,.740],[9.29,.733],[9.24,.723],[9.18,.733],[9.13,.720],[9.07,.730],[9.01,.720],[8.96,.727],[8.90,.717],[9.55,.717],[9.48,.704],[9.42,.694],[9.36,.702],[9.29,.694],[9.23,.686],[9.16,.694],[9.11,.704],[9.05,.694],[9.00,.704],[8.94,.694],[8.88,.702],[9.53,.700],[9.57,.682],[9.44,.682],[9.39,.669],[9.31,.674],[9.27,.661],[9.20,.675],[9.13,.664],[9.08,.671],[9.02,.661],[8.97,.669],[8.91,.658],[9.70,.681],[9.78,.659],[9.70,.653],[9.87,.666],[9.81,.670],[9.97,.710],[9.93,.692],[9.75,.727],[9.84,.631],[9.62,.623],[9.46,.625],[9.33,.633],[9.31,.608],[9.60,.594],[9.72,.618],[9.83,.606],[9.85,.583],[9.97,.577],[9.55,.544],[9.33,.544],[9.29,.523],[9.31,.519],[9.51,.508],[9.83,.525],
[8.62,.842],[8.70,.832],[8.78,.820],[8.66,.812],[8.74,.803],[8.83,.795],[8.62,.795],[8.69,.785],[8.77,.792],[8.86,.807],[8.64,.770],[8.72,.760],[8.80,.752],[8.88,.762],[8.63,.745],[8.71,.738],[8.79,.728],[8.86,.740],[8.61,.722],[8.68,.712],[8.76,.718],[8.84,.708],[8.65,.700],[8.73,.690],[8.81,.684],[8.89,.690],[8.62,.678],[8.70,.668],[8.78,.660],[8.86,.672],[8.64,.655],[8.74,.645],[8.84,.650],[8.67,.725],[8.75,.775],[8.82,.778],
[9.05,.835],[9.12,.820],[9.20,.840],[9.28,.828],[9.35,.845],[9.45,.850],[9.55,.860],[9.62,.850],[9.70,.842],[9.80,.830],[9.90,.840],[9.98,.825],[9.03,.750],[9.10,.745],[9.19,.755],[9.26,.748],[9.33,.757],[9.40,.760],[9.48,.752],[9.57,.745],[9.63,.757],[9.71,.760],[9.78,.752],[9.85,.758],[9.92,.735],[9.06,.712],[9.15,.705],[9.22,.712],[9.30,.715],[9.38,.712],[9.46,.716],[9.52,.725],[9.60,.710],[9.68,.705],[9.76,.712],[9.84,.700],[9.92,.715],[10.0,.712],[9.04,.680],[9.14,.680],[9.25,.648],[9.36,.650],[9.46,.655],[9.55,.640],[9.66,.650],[9.77,.640],[9.88,.655],[9.97,.665],[9.10,.620],[9.22,.615],[9.40,.610],[9.52,.620],[9.70,.600],[9.92,.600],[10.0,.577]];

const points=[].concat(stackAt1,leftSparse,lowTail,midLeft,midCenter,coreLeft,coreFillA,coreFillC,coreFillB,upperBand,lowerBand,upperRight,lowerRight,farRight);

const svg=d3.select("#chart");
const P={l:75,t:8,r:958,b:525};
const x=d3.scaleLinear().domain(xDomain).range([P.l,P.r]);
const y=d3.scaleLinear().domain(yDomain).range([P.b,P.t]);

svg.append("rect").attr("width",947).attr("height",570).attr("fill","#fff");
const grid=svg.append("g");
grid.selectAll(".xm").data(xMinor).join("line").attr("x1",d=>x(d)).attr("x2",d=>x(d)).attr("y1",P.t).attr("y2",P.b).attr("stroke","#ebebeb").attr("stroke-width",1);
grid.selectAll(".ym").data(yMinor).join("line").attr("y1",d=>y(d)).attr("y2",d=>y(d)).attr("x1",P.l).attr("x2",P.r).attr("stroke","#ebebeb").attr("stroke-width",1);
grid.selectAll(".xM").data(xTicks).join("line").attr("x1",d=>x(d)).attr("x2",d=>x(d)).attr("y1",P.t).attr("y2",P.b).attr("stroke","#ebebeb").attr("stroke-width",2);
grid.selectAll(".yM").data(yTicks).join("line").attr("y1",d=>y(d)).attr("y2",d=>y(d)).attr("x1",P.l).attr("x2",P.r).attr("stroke","#ebebeb").attr("stroke-width",2);

svg.append("g").selectAll("circle").data(points).join("circle")
  .attr("cx",d=>x(d[0])).attr("cy",d=>y(d[1])).attr("r",2.4)
  .attr("fill","#0000ff").attr("fill-opacity",0.6)
  .attr("stroke","#0000ff").attr("stroke-opacity",0.6).attr("stroke-width",0.6);

const band=bandX.map((v,i)=>({x:v,lo:bandLo[i],hi:bandHi[i]}));
svg.append("path").datum(band)
  .attr("d",d3.area().x(d=>x(d.x)).y0(d=>y(d.lo)).y1(d=>y(d.hi)).curve(d3.curveMonotoneX))
  .attr("fill","#999999").attr("fill-opacity",0.4);
svg.append("line").attr("x1",x(fitX[0])).attr("x2",x(fitX[1])).attr("y1",y(fitY[0])).attr("y2",y(fitY[1]))
  .attr("stroke","#ff0000").attr("stroke-width",4);

svg.append("rect").attr("x",P.l).attr("y",P.t).attr("width",P.r-P.l).attr("height",P.b-P.t)
  .attr("fill","none").attr("stroke","#333333").attr("stroke-width",1.1);

const xa=svg.append("g").attr("transform",`translate(0,${P.b})`)
  .call(d3.axisBottom(x).tickValues(xTicks).tickFormat((d,i)=>xTickLabels[i]).tickSize(5).tickPadding(6));
const ya=svg.append("g").attr("transform",`translate(${P.l},0)`)
  .call(d3.axisLeft(y).tickValues(yTicks).tickFormat((d,i)=>yTickLabels[i]).tickSize(5).tickPadding(4));
[xa,ya].forEach(a=>{
  a.select(".domain").remove();
  a.selectAll(".tick line").attr("stroke","#333333").attr("stroke-width",1.1);
  a.selectAll(".tick text").attr("fill","#4d4d4d").style("font-size","13px").style("font-family","DejaVu Sans");
});

svg.append("text").attr("x",(P.l+P.r)/2).attr("y",566).attr("text-anchor","middle")
  .style("font-size","18.67px").attr("fill","#000").text(xTitle);
svg.append("text").attr("transform",`translate(26,${(P.t+P.b)/2}) rotate(-90)`).attr("text-anchor","middle")
  .style("font-size","18.67px").attr("fill","#000").text(yTitle);

const ann=svg.append("g").attr("fill","#ff0000");
ann.append("text").attr("x",735).attr("y",482).style("font-size","37.5px").style("font-style","italic").text("r");
ann.append("text").attr("x",755).attr("y",462).style("font-size","27px").text("2");
ann.append("text").attr("x",777).attr("y",482).style("font-size","37.5px").text("=");
ann.append("text").attr("x",811).attr("y",482).style("font-size","37.5px").text(r2Value);
</script></body></html>
